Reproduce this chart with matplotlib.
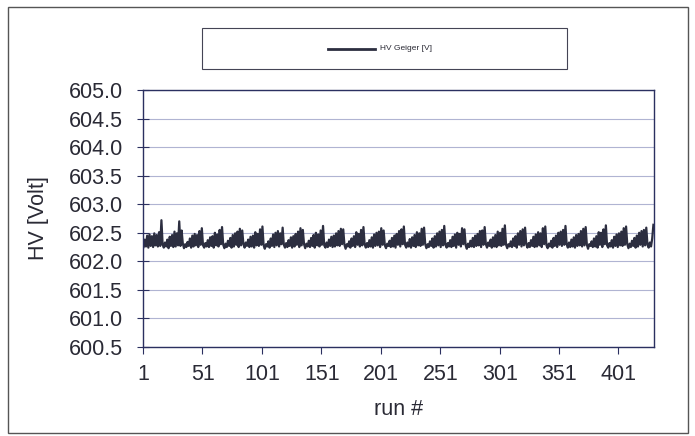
import matplotlib
matplotlib.use("Agg")
import matplotlib.pyplot as plt
from matplotlib.patches import Rectangle
from matplotlib.lines import Line2D

plt.rcParams['font.family'] = ['Liberation Sans', 'DejaVu Sans']

# HV readings per run (roughly 17-run cycles)
hv_volt = [
    602.25, 602.38, 602.26, 602.45, 602.24, 602.47, 602.27, 602.44, 602.25, 602.49, 602.28, 602.46, 602.26, 602.51, 602.27, 602.72, 602.30,
    602.24, 602.33, 602.26, 602.38, 602.23, 602.43, 602.27, 602.46, 602.25, 602.52, 602.26, 602.49, 602.28, 602.70, 602.27, 602.54, 602.31,
    602.23, 602.30, 602.25, 602.34, 602.27, 602.40, 602.24, 602.45, 602.26, 602.48, 602.28, 602.46, 602.25, 602.53, 602.29, 602.58, 602.28,
    602.24, 602.32, 602.26, 602.37, 602.25, 602.42, 602.27, 602.44, 602.24, 602.50, 602.28, 602.47, 602.26, 602.55, 602.30, 602.60, 602.29,
    602.23, 602.31, 602.25, 602.36, 602.27, 602.41, 602.24, 602.46, 602.26, 602.49, 602.29, 602.52, 602.25, 602.57, 602.28, 602.54, 602.30,
    602.24, 602.33, 602.27, 602.38, 602.25, 602.43, 602.26, 602.45, 602.24, 602.51, 602.28, 602.48, 602.27, 602.56, 602.29, 602.61, 602.28,
    602.22, 602.30, 602.26, 602.35, 602.24, 602.40, 602.27, 602.47, 602.25, 602.50, 602.28, 602.53, 602.26, 602.49, 602.30, 602.59, 602.29,
    602.24, 602.32, 602.25, 602.37, 602.27, 602.42, 602.24, 602.44, 602.26, 602.48, 602.29, 602.52, 602.25, 602.58, 602.28, 602.55, 602.30,
    602.23, 602.31, 602.26, 602.36, 602.25, 602.41, 602.27, 602.46, 602.24, 602.50, 602.28, 602.47, 602.26, 602.54, 602.29, 602.62, 602.28,
    602.24, 602.33, 602.25, 602.38, 602.27, 602.43, 602.25, 602.45, 602.26, 602.49, 602.28, 602.53, 602.27, 602.57, 602.30, 602.56, 602.29,
    602.22, 602.30, 602.26, 602.35, 602.24, 602.40, 602.27, 602.44, 602.25, 602.51, 602.29, 602.48, 602.26, 602.55, 602.28, 602.60, 602.30,
    602.24, 602.32, 602.25, 602.37, 602.26, 602.42, 602.24, 602.47, 602.27, 602.50, 602.28, 602.52, 602.25, 602.58, 602.29, 602.54, 602.28,
    602.23, 602.31, 602.27, 602.36, 602.25, 602.41, 602.26, 602.45, 602.24, 602.48, 602.29, 602.53, 602.26, 602.56, 602.30, 602.61, 602.29,
    602.24, 602.33, 602.26, 602.39, 602.24, 602.42, 602.27, 602.46, 602.25, 602.51, 602.28, 602.49, 602.27, 602.57, 602.29, 602.59, 602.30,
    602.23, 602.30, 602.25, 602.35, 602.27, 602.40, 602.24, 602.44, 602.26, 602.49, 602.28, 602.52, 602.25, 602.55, 602.28, 602.62, 602.29,
    602.24, 602.32, 602.26, 602.37, 602.25, 602.43, 602.27, 602.47, 602.24, 602.50, 602.29, 602.48, 602.26, 602.58, 602.30, 602.56, 602.28,
    602.22, 602.31, 602.25, 602.36, 602.26, 602.41, 602.25, 602.45, 602.27, 602.48, 602.28, 602.53, 602.25, 602.54, 602.29, 602.60, 602.30,
    602.24, 602.33, 602.27, 602.38, 602.24, 602.42, 602.26, 602.46, 602.25, 602.52, 602.28, 602.50, 602.27, 602.57, 602.29, 602.63, 602.29,
    602.23, 602.30, 602.26, 602.35, 602.25, 602.40, 602.27, 602.44, 602.24, 602.49, 602.29, 602.53, 602.26, 602.56, 602.28, 602.59, 602.30,
    602.24, 602.32, 602.25, 602.37, 602.27, 602.43, 602.25, 602.47, 602.26, 602.51, 602.28, 602.49, 602.25, 602.58, 602.30, 602.61, 602.28,
    602.23, 602.31, 602.26, 602.36, 602.24, 602.41, 602.27, 602.45, 602.25, 602.50, 602.29, 602.52, 602.27, 602.55, 602.29, 602.62, 602.30,
    602.24, 602.33, 602.25, 602.38, 602.26, 602.42, 602.24, 602.46, 602.27, 602.48, 602.28, 602.53, 602.26, 602.57, 602.28, 602.60, 602.29,
    602.22, 602.30, 602.27, 602.35, 602.25, 602.40, 602.26, 602.44, 602.24, 602.51, 602.29, 602.50, 602.25, 602.56, 602.30, 602.63, 602.28,
    602.24, 602.32, 602.26, 602.37, 602.24, 602.43, 602.27, 602.47, 602.25, 602.49, 602.28, 602.52, 602.27, 602.58, 602.29, 602.61, 602.30,
    602.23, 602.31, 602.25, 602.36, 602.27, 602.41, 602.24, 602.45, 602.26, 602.50, 602.29, 602.53, 602.26, 602.55, 602.28, 602.59, 602.29,
    602.24, 602.33, 602.26, 602.40, 602.64,
]
runs = list(range(1, len(hv_volt) + 1))

y_ticks = [600.5, 601.0, 601.5, 602.0, 602.5, 603.0, 603.5, 604.0, 604.5, 605.0]
x_labels = [1, 51, 101, 151, 201, 251, 301, 351, 401]

text_col = '#2a2a35'
axis_col = '#2b3060'
line_col = '#2c2e40'

fig = plt.figure(figsize=(6.95, 4.36), dpi=100)
ax = fig.add_axes([143 / 695, 1 - 347 / 436, 511 / 695, 257 / 436])

ax.plot(runs, hv_volt, color=line_col, lw=1.6)

ax.set_xlim(0.5, len(hv_volt) + 0.5)
ax.set_ylim(600.5, 605.0)
ax.set_yticks(y_ticks)
ax.set_yticklabels(['%.1f' % v for v in y_ticks], fontsize=15.5, color=text_col)
ax.yaxis.grid(True, color='#b0b4d2', lw=0.8)
ax.set_axisbelow(True)
ax.tick_params(axis='y', direction='inout', length=9, width=0.8, color=axis_col, pad=10)

# category axis: ticks between categories, labels on them
ax.set_xticks([v - 0.5 for v in x_labels])
ax.set_xticklabels([])
ax.set_xticks(x_labels, minor=True)
ax.set_xticklabels([str(v) for v in x_labels], minor=True, fontsize=15.5, color=text_col)
ax.tick_params(axis='x', which='major', direction='out', length=5, width=0.8, color=axis_col)
ax.tick_params(axis='x', which='minor', length=0, pad=12)

for s in ax.spines.values():
    s.set_color(axis_col)
    s.set_linewidth(1.0)

ax.set_ylabel('HV [Volt]', fontsize=15.5, color=text_col, labelpad=14)
ax.set_xlabel('run #', fontsize=15.5, color=text_col, labelpad=10)

# legend box
fig.patches.append(Rectangle((202 / 695, 1 - 69 / 436), 365 / 695, 41 / 436,
                             transform=fig.transFigure, fill=False,
                             edgecolor='#444455', lw=0.8))
fig.lines.append(Line2D([328 / 695, 375 / 695], [1 - 49 / 436, 1 - 49 / 436],
                        transform=fig.transFigure, color=line_col, lw=2.0))
fig.text(380 / 695, 1 - 49 / 436, 'HV Geiger [V]', fontsize=6, color=text_col,
         va='center', ha='left')

# outer chart frame
fig.patches.append(Rectangle((8 / 695, 1 - 433 / 436), 680 / 695, 426 / 436,
                             transform=fig.transFigure, fill=False,
                             edgecolor='#555555', lw=1.0))

fig.savefig('out.png', dpi=100)
